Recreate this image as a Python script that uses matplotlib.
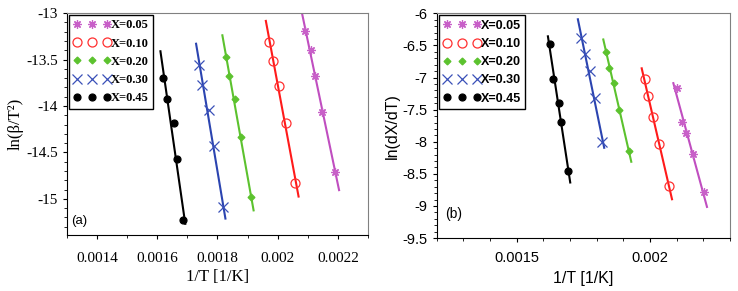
import numpy as np
import matplotlib
matplotlib.use('Agg')
import matplotlib.pyplot as plt
from matplotlib.ticker import MultipleLocator

labels = ['X=0.05', 'X=0.10', 'X=0.20', 'X=0.30', 'X=0.45']

# panel (a): ln(beta/T^2) vs 1/T
xa = [
  [0.002092, 0.002110, 0.002123, 0.002148, 0.002192],
  [0.001972, 0.001985, 0.002003, 0.002026, 0.002059],
  [0.001827, 0.001839, 0.001859, 0.001877, 0.001910],
  [0.001739, 0.001749, 0.001772, 0.001787, 0.001817],
  [0.001619, 0.001632, 0.001654, 0.001664, 0.001685],
]
ya = [
  [-13.19, -13.40, -13.68, -14.06, -14.71],
  [-13.31, -13.52, -13.78, -14.18, -14.83],
  [-13.47, -13.68, -13.93, -14.33, -14.98],
  [-13.56, -13.77, -14.04, -14.43, -15.09],
  [-13.70, -13.92, -14.18, -14.57, -15.23],
]

# panel (b): ln(dX/dT) vs 1/T
xb = [
  [0.002101, 0.002120, 0.002135, 0.002160, 0.002202],
  [0.001981, 0.001991, 0.002010, 0.002035, 0.002072],
  [0.001836, 0.001847, 0.001866, 0.001885, 0.001920],
  [0.001740, 0.001756, 0.001775, 0.001794, 0.001819],
  [0.001626, 0.001635, 0.001658, 0.001668, 0.001693],
]
yb = [
  [-7.16, -7.69, -7.86, -8.19, -8.79],
  [-7.02, -7.28, -7.62, -8.03, -8.69],
  [-6.60, -6.85, -7.09, -7.50, -8.14],
  [-6.38, -6.63, -6.90, -7.32, -8.00],
  [-6.48, -7.03, -7.40, -7.69, -8.45],
]

line_cols = ['#c04ec0', '#ff1a1a', '#5cc22e', '#2b44b0', '#000000']
mk_cols = ['#c860c8', '#ff3030', '#5cc22e', '#3a50b8', '#000000']
markers = [(8, 2, 0), 'o', 'D', 'x', 'o']
msizes = [6, 6.5, 3.5, 7, 5]
mfill = [True, False, True, True, True]

fig = plt.figure(figsize=(7.38, 2.91), dpi=100)
axa = fig.add_axes([0.0908, 0.192, 0.4078, 0.763])
axb = fig.add_axes([0.5917, 0.182, 0.3973, 0.772])


def draw(ax, xs, ys, lfont):
  for i in range(5):
    x = np.array(xs[i])
    y = np.array(ys[i])
    p = np.polyfit(x, y, 1)
    span = x.max() - x.min()
    xx = np.array([x.min() - 0.13 * span, x.max() + 0.12 * span])
    ax.plot(xx, np.polyval(p, xx), color=line_cols[i], lw=1.5, zorder=2)
    kw = dict(marker=markers[i], ms=msizes[i], ls='none', zorder=3,
              label=labels[i])
    if mfill[i]:
      kw.update(color=mk_cols[i], mec=mk_cols[i], mew=0.9)
    else:
      kw.update(mfc='none', mec=mk_cols[i], mew=0.9)
    ax.plot(x, y, **kw)
  leg = ax.legend(loc='upper left', numpoints=3, frameon=True, fancybox=False,
                  borderaxespad=0.15, handletextpad=0.0, borderpad=0.35,
                  labelspacing=0.5, handlelength=3.0,
                  prop=dict(family=lfont, weight='bold', size=9))
  leg.get_frame().set_edgecolor('black')
  leg.get_frame().set_linewidth(1.0)
  leg.get_frame().set_alpha(1)
  for s in ['top', 'right']:
    ax.spines[s].set_color('#808080')
  ax.tick_params(which='both', direction='out')
  ax.tick_params(which='major', length=3)
  ax.tick_params(which='minor', length=2)
  ax.tick_params(top=False, right=False)


draw(axa, xa, ya, 'Liberation Serif')
axa.set_xlim(0.0013, 0.0023)
axa.set_ylim(-15.39, -13)
axa.xaxis.set_minor_locator(MultipleLocator(0.0001))
axa.yaxis.set_minor_locator(MultipleLocator(0.1))
axa.set_xticks([0.0014, 0.0016, 0.0018, 0.002, 0.0022])
axa.set_xticklabels(['0.0014', '0.0016', '0.0018', '0.002', '0.0022'],
                    family='Liberation Serif', fontsize=11)
axa.set_yticks([-15, -14.5, -14, -13.5, -13])
axa.set_yticklabels(['-15', '-14.5', '-14', '-13.5', '-13'],
                    family='Liberation Serif', fontsize=11)
axa.tick_params(axis='x', pad=9)
axa.set_xlabel('1/T [1/K]', family='Liberation Serif', fontsize=12, labelpad=3)
axa.set_ylabel('ln(β/T²)', family='Liberation Serif', fontsize=12, labelpad=2)
axa.text(0.015, 0.05, '(a)', transform=axa.transAxes, family='Liberation Sans',
         fontsize=9.5)

draw(axb, xb, yb, 'Liberation Sans')
axb.set_xlim(0.0012, 0.0023)
axb.set_ylim(-9.5, -6)
axb.xaxis.set_minor_locator(MultipleLocator(0.0001))
axb.yaxis.set_minor_locator(MultipleLocator(0.1))
axb.set_xticks([0.0015, 0.002])
axb.set_xticklabels(['0.0015', '0.002'], family='Liberation Sans', fontsize=10.5)
axb.set_yticks([-9.5, -9, -8.5, -8, -7.5, -7, -6.5, -6])
axb.set_yticklabels(['-9.5', '-9', '-8.5', '-8', '-7.5', '-7', '-6.5', '-6'],
                    family='Liberation Sans', fontsize=10.5)
axb.tick_params(axis='x', pad=6)
axb.set_xlabel('1/T [1/K]', family='Liberation Sans', fontsize=11.5, labelpad=5)
axb.set_ylabel('ln(dX/dT)', family='Liberation Sans', fontsize=11.5, labelpad=2)
axb.text(0.03, 0.09, '(b)', transform=axb.transAxes, family='Liberation Sans',
         fontsize=10)

fig.savefig('out.png', dpi=100)
